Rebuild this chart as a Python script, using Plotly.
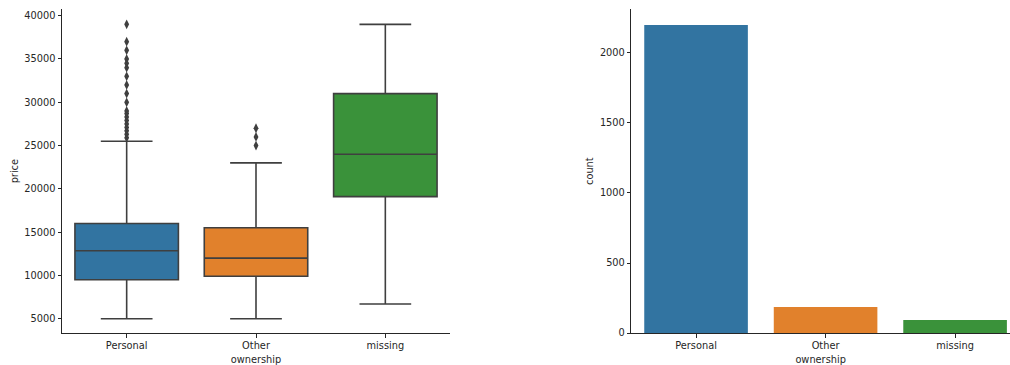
import plotly.graph_objects as go

# Price distribution per ownership category
categories = ["Personal", "Other", "missing"]
colors = ["#3274a1", "#e1812c", "#3a923a"]

q1 = [9500, 9900, 19100]
median = [12850, 12000, 24000]
q3 = [16000, 15500, 31000]
lower_whisker = [5000, 5000, 6700]
upper_whisker = [25500, 23000, 39000]

outliers_personal = [39000, 37000, 36000, 35000, 34500, 34000, 33000, 32000, 31000,
                     30000, 29000, 28700, 28300, 27900, 27500, 27100, 26700, 26300, 25900]
outliers_other = [27000, 26000, 25000]

price_ticks = [5000, 10000, 15000, 20000, 25000, 30000, 35000, 40000]

# Number of listings per ownership category
counts = [2200, 185, 92]
count_ticks = [0, 500, 1000, 1500, 2000]

edge = "#3f3f3f"
text_color = "#262626"
font = dict(family="DejaVu Sans", size=9.8, color=text_color)

fig = go.Figure()

for i, cat in enumerate(categories):
    fig.add_trace(go.Box(
        x=[cat], q1=[q1[i]], median=[median[i]], q3=[q3[i]],
        lowerfence=[lower_whisker[i]], upperfence=[upper_whisker[i]],
        fillcolor=colors[i], line=dict(color=edge, width=1.6),
        width=0.8, whiskerwidth=0.5, boxpoints=False,
        xaxis="x", yaxis="y", showlegend=False, hoverinfo="skip",
    ))

out_x = ["Personal"] * len(outliers_personal) + ["Other"] * len(outliers_other)
out_y = outliers_personal + outliers_other
fig.add_trace(go.Scatter(
    x=out_x, y=out_y, mode="markers",
    marker=dict(symbol="diamond-tall", size=7, color=edge, line=dict(width=0)),
    xaxis="x", yaxis="y", showlegend=False, hoverinfo="skip",
))

fig.add_trace(go.Bar(
    x=categories, y=counts, marker=dict(color=colors, line=dict(width=0)),
    width=0.8, xaxis="x2", yaxis="y2", showlegend=False, hoverinfo="skip",
))

axis_common = dict(
    showline=True, linecolor=text_color, linewidth=1,
    ticks="outside", ticklen=3.5, tickwidth=0.8, tickcolor=text_color,
    showgrid=False, zeroline=False, tickfont=font, automargin=False,
)

fig.update_layout(
    width=1010, height=365,
    margin=dict(l=0, r=0, t=0, b=0),
    paper_bgcolor="white", plot_bgcolor="white",
    font=font, boxmode="overlay",
    xaxis=dict(domain=[62 / 1010, 450 / 1010], range=[-0.5, 2.5], type="category",
               categoryorder="array", categoryarray=categories,
               title=dict(text="ownership", font=font, standoff=5),
               anchor="y", **axis_common),
    yaxis=dict(domain=[1 - 333 / 365, 1 - 9.3 / 365], range=[3350, 40740],
               tickvals=price_ticks, ticktext=[str(v) for v in price_ticks],
               title=dict(text="price", font=font, standoff=3),
               anchor="x", **axis_common),
    xaxis2=dict(domain=[631.3 / 1010, 1.0], range=[-0.5, 2.424], type="category",
                categoryorder="array", categoryarray=categories,
                title=dict(text="ownership", font=font, standoff=5),
                anchor="y2", **axis_common),
    yaxis2=dict(domain=[1 - 333 / 365, 1 - 9.3 / 365], range=[0, 2312],
                tickvals=count_ticks, ticktext=[str(v) for v in count_ticks],
                title=dict(text="count", font=font, standoff=4),
                anchor="x2", **axis_common),
)

fig.write_html("out.html")
